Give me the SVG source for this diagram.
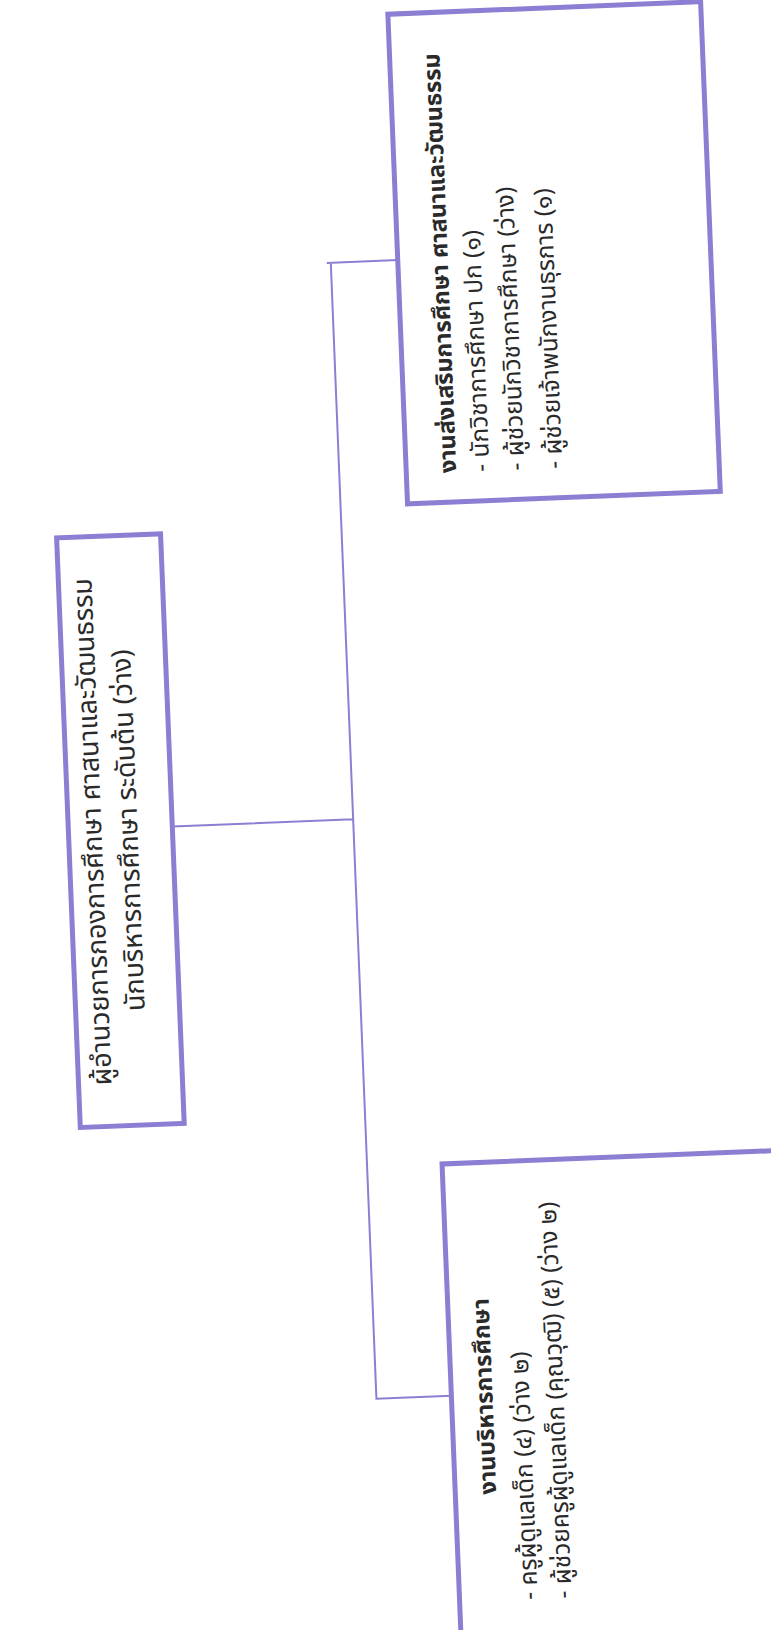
<svg xmlns="http://www.w3.org/2000/svg" width="771" height="1630" viewBox="0 0 771 1630">
<style>
.box{fill:none;stroke:#8a7fd2;stroke-width:5}
.con{fill:none;stroke:#8a7fd2;stroke-width:2}
text{font-family:"Noto Sans Thai","Noto Sans","DejaVu Sans",sans-serif;fill:#2a2a2a}
.t{font-size:24.5px}
.b{font-size:23.5px;font-weight:bold}
.c{font-size:27px;text-anchor:middle}
</style>
<rect width="771" height="1630" fill="#ffffff"/>
<g transform="rotate(-2.3 385 815)">
<g id="connectors">
<path class="con" d="M349 261H420M353 261V1398H428M172 818H353"/>
</g>
<g id="director">
<rect class="box" x="68" y="525" width="104" height="590"/>
<text class="c" transform="translate(101 820) rotate(-90)">ผู้อำนวยการกองการศึกษา ศาสนาและวัฒนธรรม</text>
<text class="c" transform="translate(137 820) rotate(-90)">นักบริหารการศึกษา ระดับต้น (ว่าง)</text>
</g>
<g id="promotion">
<rect class="box" x="420" y="15" width="313" height="490"/>
<text class="b" transform="translate(470 476) rotate(-90)">งานส่งเสริมการศึกษา ศาสนาและวัฒนธรรม</text>
<text class="t" transform="translate(503 476) rotate(-90)">-  นักวิชาการศึกษา ปก (๑)</text>
<text class="t" transform="translate(538 476) rotate(-90)">-  ผู้ช่วยนักวิชาการศึกษา (ว่าง)</text>
<text class="t" transform="translate(576 476) rotate(-90)">-  ผู้ช่วยเจ้าพนักงานธุรการ (๑)</text>
</g>
<g id="admin">
<rect class="box" x="428" y="1166" width="340" height="490"/>
<text class="b" transform="translate(469 1400) rotate(-90)" text-anchor="middle">งานบริหารการศึกษา</text>
<text class="t" transform="translate(506 1605) rotate(-90)">-  ครูผู้ดูแลเด็ก (๔) (ว่าง ๒)</text>
<text class="t" transform="translate(540 1605) rotate(-90)">-  ผู้ช่วยครูผู้ดูแลเด็ก (คุณวุฒิ) (๕) (ว่าง ๒)</text>
</g>
</g>
</svg>
